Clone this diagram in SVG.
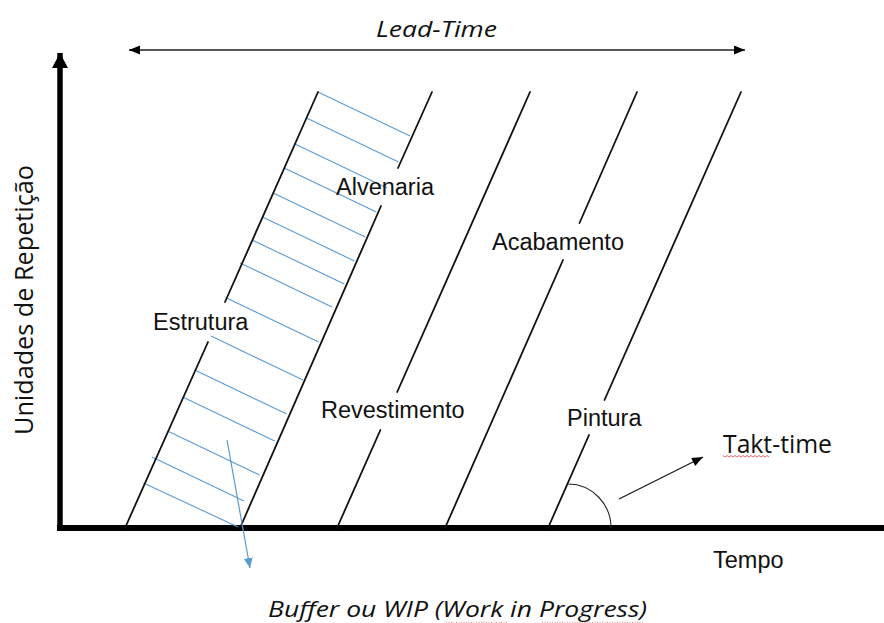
<svg xmlns="http://www.w3.org/2000/svg" width="884" height="623" viewBox="0 0 884 623">
  <style>
    .ln { stroke: #111; stroke-width: 1.8; fill: none; stroke-linecap: round; }
    .hatch { stroke: #5b9bd5; stroke-width: 1.1; fill: none; }
    .lbl { font-family: "Liberation Sans", Arial, sans-serif; font-size: 23.5px; fill: #111; }
    .cal { font-family: "Open Sans", "Liberation Sans", sans-serif; fill: #111; }
    .it { font-style: italic; }
    .spell { stroke: #e04545; stroke-width: 0.8; fill: none; }
  </style>
  <defs>
    <marker id="ahBlack" markerUnits="userSpaceOnUse" markerWidth="12" markerHeight="10" refX="11" refY="4.5" orient="auto-start-reverse">
      <path d="M0,0 L11,4.5 L0,9 z" fill="#000"/>
    </marker>
    <marker id="ahAxis" markerUnits="userSpaceOnUse" markerWidth="18" markerHeight="18" refX="15" refY="8" orient="auto">
      <path d="M0,0 L15,8 L0,16 z" fill="#000"/>
    </marker>
    <marker id="ahBlue" markerUnits="userSpaceOnUse" markerWidth="12" markerHeight="10" refX="10" refY="4.5" orient="auto">
      <path d="M0,0 L10,4.5 L0,9 z" fill="#5b9bd5"/>
    </marker>
  </defs>
  <rect width="884" height="623" fill="#fff"/>

  <!-- axes -->
  <g id="axes">
    <line x1="60" y1="531" x2="60" y2="53" stroke="#000" stroke-width="5.5" marker-end="url(#ahAxis)"/>
    <line x1="57" y1="528" x2="884" y2="528" stroke="#000" stroke-width="6"/>
  </g>

  <!-- hatched buffer (Estrutura band) -->
  <g id="hatch" class="hatch">
    <line x1="318" y1="92" x2="410" y2="136"/>
    <line x1="306.5" y1="118" x2="398.5" y2="162"/>
    <line x1="295" y1="144" x2="387" y2="188"/>
    <line x1="284.3" y1="168" x2="376.3" y2="212"/>
    <line x1="273.2" y1="193" x2="365.2" y2="237"/>
    <line x1="262.5" y1="217" x2="354.5" y2="261"/>
    <line x1="252.3" y1="240" x2="344.3" y2="284"/>
    <line x1="240" y1="263" x2="332" y2="307"/>
    <line x1="226.6" y1="298" x2="318.6" y2="342"/>
    <line x1="211" y1="336" x2="303" y2="380"/>
    <line x1="194.7" y1="370" x2="286.7" y2="414"/>
    <line x1="182.7" y1="397" x2="274.7" y2="441"/>
    <line x1="167.6" y1="431" x2="259.6" y2="475"/>
    <line x1="152" y1="457" x2="244" y2="501"/>
    <line x1="143.5" y1="483" x2="238" y2="527"/>
  </g>

  <!-- activity lines -->
  <g id="estrutura">
    <line class="ln" x1="125" y1="528" x2="208" y2="342"/>
    <line class="ln" x1="225" y1="302" x2="318" y2="92"/>
    <text class="lbl" x="153" y="330">Estrutura</text>
  </g>
  <g id="alvenaria">
    <line class="ln" x1="240" y1="528" x2="381" y2="206"/>
    <line class="ln" x1="398" y1="168" x2="432" y2="92"/>
    <text class="lbl" x="336" y="195">Alvenaria</text>
  </g>
  <g id="revestimento">
    <line class="ln" x1="337" y1="528" x2="380.4" y2="430"/>
    <line class="ln" x1="397.2" y1="392" x2="530" y2="92"/>
    <text class="lbl" x="321" y="418">Revestimento</text>
  </g>
  <g id="acabamento">
    <line class="ln" x1="445" y1="528" x2="563" y2="260"/>
    <line class="ln" x1="579.5" y1="223" x2="637" y2="92"/>
    <text class="lbl" x="492" y="250">Acabamento</text>
  </g>
  <g id="pintura">
    <line class="ln" x1="548" y1="528" x2="589" y2="435"/>
    <line class="ln" x1="604.5" y1="400" x2="741" y2="92"/>
    <text class="lbl" x="567" y="426">Pintura</text>
  </g>

  <!-- connectors -->
  <g id="connectors">
    <line x1="129" y1="50" x2="745" y2="50" stroke="#222" stroke-width="1.3" marker-start="url(#ahBlack)" marker-end="url(#ahBlack)"/>
    <line x1="227" y1="440" x2="250" y2="568" stroke="#5b9bd5" stroke-width="1.2" marker-end="url(#ahBlue)"/>
    <line x1="619" y1="499" x2="703" y2="457" stroke="#111" stroke-width="1.2" marker-end="url(#ahBlack)"/>
    <path d="M568.3,484 A43,44 0 0 1 611,528" fill="none" stroke="#222" stroke-width="1.1"/>
  </g>

  <!-- labels -->
  <g id="lead-time">
    <text class="cal it" x="376" y="37" font-size="21.5" textLength="121" lengthAdjust="spacingAndGlyphs">Lead-Time</text>
  </g>
  <g id="takt-time">
    <text class="cal" x="723" y="453" font-size="25" textLength="109" lengthAdjust="spacingAndGlyphs">Takt-time</text>
    <path class="spell" d="M723,455.5 l2,1.5 l2,-1.5 l2,1.5 l2,-1.5 l2,1.5 l2,-1.5 l2,1.5 l2,-1.5 l2,1.5 l2,-1.5 l2,1.5 l2,-1.5 l2,1.5 l2,-1.5 l2,1.5 l2,-1.5 l2,1.5 l2,-1.5 l2,1.5 l2,-1.5 l2,1.5 l2,-1.5 l2,1.5"/>
  </g>
  <g id="tempo">
    <text class="lbl" x="713" y="568">Tempo</text>
  </g>
  <g id="unidades">
    <text class="cal" transform="translate(33,435) rotate(-90)" x="0" y="0" font-size="25" textLength="270" lengthAdjust="spacingAndGlyphs">Unidades de Repetição</text>
  </g>
  <g id="buffer">
    <text class="cal it" x="268" y="617" font-size="22.5" textLength="379" lengthAdjust="spacingAndGlyphs">Buffer ou WIP (Work in Progress)</text>
    <line x1="446" y1="622.3" x2="507" y2="622.3" stroke="#e07070" stroke-width="0.8" stroke-dasharray="1,1.5"/>
    <line x1="542" y1="622.3" x2="643" y2="622.3" stroke="#e07070" stroke-width="0.8" stroke-dasharray="1,1.5"/>
  </g>
</svg>
